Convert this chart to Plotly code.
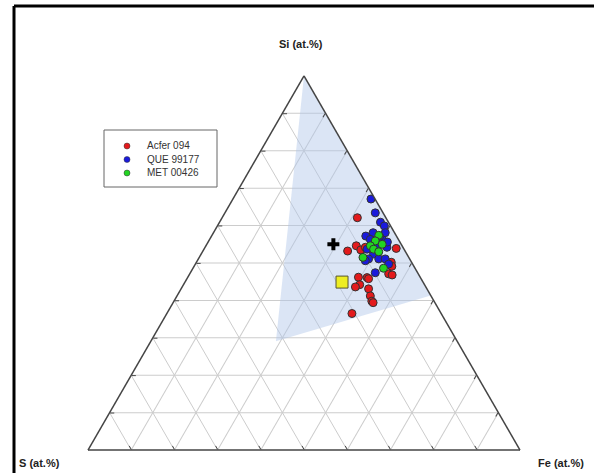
import plotly.graph_objects as go

# ---- data (at.%) : Si, S, Fe ----
series_names = ["Acfer 094", "QUE 99177", "MET 00426"]
series_colors = ["#e31a1c", "#1a1adc", "#22d422"]

acfer_si = [62.1, 53.2, 54.6, 53.5, 54.2, 53.9, 50.2, 49.1, 47.1, 46.8, 46.2, 46.1, 45.8, 44.2, 43.6, 43.1, 41.2, 39.8, 39.4, 36.5]
acfer_s  = [6.6, 13.3, 10.6, 10.1, 8.7, 1.7, 4.7, 5.1, 6.85, 6.2, 14.3, 12.35, 12.15, 15.0, 16.3, 13.5, 14.05, 14.4, 14.3, 20.65]
acfer_fe = [31.3, 33.5, 34.8, 36.4, 37.1, 44.4, 45.1, 45.75, 46.05, 47.0, 39.5, 41.55, 42.05, 40.8, 40.1, 43.4, 44.75, 45.8, 46.3, 42.85]

que_si = [67.1, 63.4, 60.9, 59.9, 58.1, 57.2, 56.3, 56.5, 58.1, 54.2, 53.7, 52.4, 51.1, 51.1, 51.1, 49.7, 50.6, 47.4, 57.1, 55.6, 54.2]
que_s  = [0.95, 1.8, 1.85, 1.45, 4.95, 7.1, 6.5, 3.65, 2.15, 3.7, 8.55, 7.7, 9.5, 7.15, 5.65, 5.55, 10.5, 9.8, 3.95, 2.9, 6.2]
que_fe = [31.95, 34.8, 37.25, 38.65, 36.95, 35.7, 37.2, 39.85, 39.75, 42.1, 37.75, 39.9, 39.4, 41.75, 43.25, 44.75, 38.9, 42.8, 38.95, 41.5, 39.6]

met_si = [57.4, 55.9, 55.0, 54.6, 53.7, 53.0, 51.5, 48.6]
met_s  = [4.0, 5.55, 4.4, 7.35, 7.05, 6.2, 10.6, 7.3]
met_fe = [38.6, 38.55, 40.6, 38.05, 39.25, 40.8, 37.9, 44.1]

square_si, square_s, square_fe = [44.9], [18.75], [36.35]
cross_si, cross_s, cross_fe = [55.0], [15.7], [29.3]

field_si = [100, 29.1, 41.3, 100]
field_s  = [0, 41.95, 0, 0]
field_fe = [0, 28.95, 58.7, 0]

axis_titles = ["Si (at.%)", "S (at.%)", "Fe (at.%)"]

W, H = 594, 473

fig = go.Figure()

fig.add_trace(go.Scatterternary(
    a=field_si, b=field_s, c=field_fe, mode="lines", fill="toself",
    fillcolor="rgba(176,198,232,0.45)", line=dict(width=0), showlegend=False,
    hoverinfo="skip"))

for name, col, a, b, c in [
    (series_names[0], series_colors[0], acfer_si, acfer_s, acfer_fe),
    (series_names[1], series_colors[1], que_si, que_s, que_fe),
    (series_names[2], series_colors[2], met_si, met_s, met_fe),
]:
    fig.add_trace(go.Scatterternary(
        a=a, b=b, c=c, mode="markers", name=name, showlegend=False,
        marker=dict(size=8, color=col, line=dict(width=1, color="#333333"))))

fig.add_trace(go.Scatterternary(
    a=square_si, b=square_s, c=square_fe, mode="markers", showlegend=False,
    marker=dict(symbol="square", size=12, color="#eeee22", line=dict(width=1, color="#555533"))))
fig.add_trace(go.Scatterternary(
    a=cross_si, b=cross_s, c=cross_fe, mode="markers", showlegend=False,
    marker=dict(symbol="cross", size=10, color="#000000", line=dict(width=0))))

axis_style = dict(
    showticklabels=False, ticks="inside", ticklen=4, tickcolor="#444444",
    linecolor="#444444", linewidth=1.5, showgrid=True, gridcolor="#cccccc",
    gridwidth=1, tick0=0, dtick=10, min=0, title=dict(text=""))

fig.update_layout(
    width=W, height=H,
    margin=dict(l=0, r=0, t=0, b=0),
    paper_bgcolor="white",
    font=dict(family="Liberation Sans, Arial, sans-serif", size=11, color="#222222"),
    ternary=dict(
        sum=100,
        domain=dict(x=[88 / W, 520 / W], y=[(H - 451) / H, (H - 75) / H]),
        bgcolor="white",
        aaxis=axis_style, baxis=axis_style, caxis=axis_style),
    showlegend=False,
)

shapes = [
    dict(type="line", xref="paper", yref="paper", x0=14 / W, x1=1, y0=1 - 6 / H, y1=1 - 6 / H,
         line=dict(color="black", width=3)),
    dict(type="line", xref="paper", yref="paper", x0=14 / W, x1=14 / W, y0=0, y1=1 - 6 / H,
         line=dict(color="black", width=3)),
    dict(type="rect", xref="paper", yref="paper", x0=104 / W, x1=217 / W, y0=1 - 187 / H, y1=1 - 130 / H,
         line=dict(color="#666666", width=1), fillcolor="white"),
]
annotations = []
legend_rows = [146, 159.5, 173]
for name, col, yy in zip(series_names, series_colors, legend_rows):
    shapes.append(dict(type="circle", xref="paper", yref="paper", xsizemode="pixel", ysizemode="pixel",
                       xanchor=127 / W, yanchor=1 - yy / H, x0=-3, x1=3, y0=-3, y1=3,
                       fillcolor=col, line=dict(color="#333333", width=0.5)))
    annotations.append(dict(xref="paper", yref="paper", x=145 / W, y=1 - yy / H, text=name,
                            showarrow=False, xanchor="left", yanchor="middle",
                            font=dict(size=10, color="#333333")))

annotations.append(dict(xref="paper", yref="paper", x=301 / W, y=1 - 44 / H, text="<b>" + axis_titles[0] + "</b>",
                        showarrow=False, xanchor="center", yanchor="middle", font=dict(size=11, color="#222222")))
annotations.append(dict(xref="paper", yref="paper", x=17 / W, y=1 - 463 / H, text="<b>" + axis_titles[1] + "</b>",
                        showarrow=False, xanchor="left", yanchor="middle", font=dict(size=11, color="#222222")))
annotations.append(dict(xref="paper", yref="paper", x=536 / W, y=1 - 463 / H, text="<b>" + axis_titles[2] + "</b>",
                        showarrow=False, xanchor="left", yanchor="middle", font=dict(size=11, color="#222222")))

fig.update_layout(shapes=shapes, annotations=annotations)

fig.write_html("out.html", config={"displayModeBar": False},
               post_script="document.body.style.margin='0';document.body.style.overflow='hidden';")
